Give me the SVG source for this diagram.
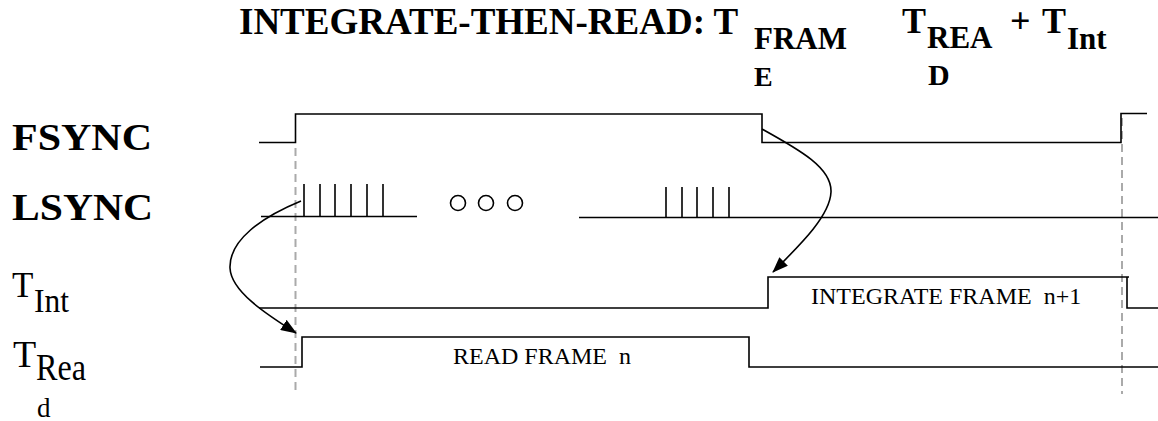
<svg xmlns="http://www.w3.org/2000/svg" width="1158" height="421" viewBox="0 0 1158 421">
<style>
.sig{fill:none;stroke:#000;stroke-width:1.6}
.dash{fill:none;stroke:#aaa;stroke-width:2;stroke-dasharray:8,5}
.conn{fill:none;stroke:#000;stroke-width:1.6}
.b{font-family:"Liberation Serif","Times New Roman",serif;font-weight:bold;fill:#000}
.r{font-family:"Liberation Serif","Times New Roman",serif;fill:#000}
</style>
<defs>
<marker id="ah" markerUnits="userSpaceOnUse" markerWidth="16" markerHeight="12" refX="15" refY="6" orient="auto">
<path d="M0,0 L16,6 L0,12 z" fill="#000"/>
</marker>
</defs>
<rect width="1158" height="421" fill="#fff"/>
<g id="title">
<text class="b" x="239" y="34" font-size="37">INTEGRATE-THEN-READ: T</text>
<text class="b" x="754" y="49" font-size="31">FRAM</text>
<text class="b" x="754" y="86" font-size="28">E</text>
<text class="b" x="902" y="33" font-size="36">T</text>
<text class="b" x="927" y="48" font-size="31">REA</text>
<text class="b" x="928" y="85" font-size="30">D</text>
<text class="b" x="1010" y="33" font-size="36">+</text>
<text class="b" x="1042" y="33" font-size="36">T</text>
<text class="b" x="1067" y="49" font-size="31">Int</text>
</g>
<g id="guides">
<line class="dash" x1="295.5" y1="148" x2="295.5" y2="390"/>
<line class="dash" x1="1122" y1="118" x2="1122" y2="394"/>
</g>
<g id="fsync">
<text class="b" x="12" y="150" font-size="38" textLength="140" lengthAdjust="spacingAndGlyphs">FSYNC</text>
<path class="sig" d="M259,142.5 H295.5 V114 H762 V142.5 H1121 V113.5 H1147"/>
</g>
<g id="lsync">
<text class="b" x="12" y="220" font-size="38" textLength="141" lengthAdjust="spacingAndGlyphs">LSYNC</text>
<path class="sig" d="M261,216.5 H417 M304,184 V216.5 M320,184 V216.5 M335,184 V216.5 M351,184 V216.5 M367,184 V216.5 M383,184 V216.5"/>
<circle class="sig" cx="458" cy="203" r="7.5"/>
<circle class="sig" cx="486" cy="203" r="7.5"/>
<circle class="sig" cx="515" cy="203" r="7.5"/>
<path class="sig" d="M579,217.5 H1158 M666,187 V217.5 M682,187 V217.5 M697,187 V217.5 M713,187 V217.5 M729,187 V217.5"/>
</g>
<g id="tint">
<text class="r" x="12" y="297" font-size="35">T</text>
<text class="r" x="34" y="312" font-size="33" textLength="35" lengthAdjust="spacingAndGlyphs">Int</text>
<path class="sig" d="M259,308 H768 V277 H1129 M1127,277 V308 H1158"/>
<text class="r" x="811" y="304" font-size="24" xml:space="preserve">INTEGRATE FRAME  n+1</text>
</g>
<g id="tread">
<text class="r" x="13" y="367" font-size="38">T</text>
<text class="r" x="36" y="380" font-size="38" textLength="50" lengthAdjust="spacingAndGlyphs">Rea</text>
<text class="r" x="37" y="417" font-size="27">d</text>
<path class="sig" d="M260,367 H302 V337 H749 V367 H1158"/>
<text class="r" x="453" y="364" font-size="24" xml:space="preserve">READ FRAME  n</text>
</g>
<g id="connectors">
<path class="conn" d="M301,201 C262,217 229,240 230,268 C231,292 268,315 296,333" marker-end="url(#ah)"/>
<path class="conn" d="M762,129 C800,150 832,168 831,192 C830,216 800,245 773,272" marker-end="url(#ah)"/>
</g>
</svg>
